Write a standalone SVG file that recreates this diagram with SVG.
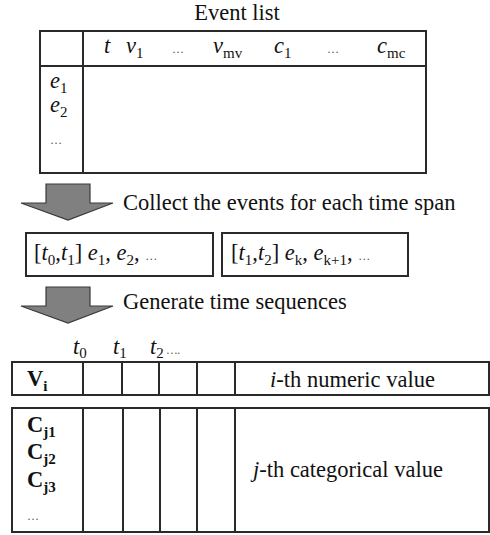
<svg xmlns="http://www.w3.org/2000/svg" width="490" height="535" viewBox="0 0 490 535">
<style>
text{font-family:"Liberation Serif","Times New Roman",serif;fill:#111}
.t{font-size:22.5px}
.it{font-style:italic}
.sub{font-size:15px;font-style:normal}
.dots{font-size:12px;fill:#555}
.box{fill:#fff;stroke:#2a2a2a;stroke-width:2}
.ln{stroke:#2a2a2a;stroke-width:2}
.arrow{fill:#808080;stroke:#3a3a3a;stroke-width:1.2}
.b{font-weight:bold}
</style>
<g id="event-list">
<text class="t" x="237" y="20" text-anchor="middle">Event list</text>
<rect class="box" x="40" y="31" width="386" height="142"/>
<line class="ln" x1="83" y1="31" x2="83" y2="173"/>
<line class="ln" x1="40" y1="66" x2="426" y2="66"/>
<text class="t it" x="104" y="53">t</text>
<text class="t it" x="126" y="53">v<tspan class="sub" dy="5">1</tspan></text>
<text class="dots" x="172" y="53">…</text>
<text class="t it" x="213" y="53">v<tspan class="sub" dy="5">mv</tspan></text>
<text class="t it" x="274" y="53">c<tspan class="sub" dy="5">1</tspan></text>
<text class="dots" x="327" y="53">…</text>
<text class="t it" x="377" y="53">c<tspan class="sub" dy="5">mc</tspan></text>
<text class="t it" x="50" y="88">e<tspan class="sub" dy="5">1</tspan></text>
<text class="t it" x="50" y="112">e<tspan class="sub" dy="5">2</tspan></text>
<text class="dots" x="50" y="144">…</text>
</g>
<g id="arrow1">
<polygon class="arrow" points="46,184 90,184 90,203 113,203 68,220 21,203 46,203"/>
<text class="t" x="123" y="210">Collect the events for each time span</text>
</g>
<g id="span1">
<rect class="box" x="26" y="233" width="187" height="43"/>
<text class="t" x="34" y="260">[<tspan class="it">t</tspan><tspan class="sub" dy="5">0</tspan><tspan dy="-5">,</tspan><tspan class="it">t</tspan><tspan class="sub" dy="5">1</tspan><tspan dy="-5">] </tspan><tspan class="it">e</tspan><tspan class="sub" dy="5">1</tspan><tspan dy="-5">, </tspan><tspan class="it">e</tspan><tspan class="sub" dy="5">2</tspan><tspan dy="-5">, </tspan><tspan class="dots">…</tspan></text>
</g>
<g id="span2">
<rect class="box" x="222" y="233" width="186" height="43"/>
<text class="t" x="231" y="260">[<tspan class="it">t</tspan><tspan class="sub" dy="5">1</tspan><tspan dy="-5">,</tspan><tspan class="it">t</tspan><tspan class="sub" dy="5">2</tspan><tspan dy="-5">] </tspan><tspan class="it">e</tspan><tspan class="sub" dy="5">k</tspan><tspan dy="-5">, </tspan><tspan class="it">e</tspan><tspan class="sub" dy="5">k+1</tspan><tspan dy="-5">, </tspan><tspan class="dots">…</tspan></text>
</g>
<g id="arrow2">
<polygon class="arrow" points="46,287 90,287 90,306 113,306 68,323 21,306 46,306"/>
<text class="t" x="123" y="309">Generate time sequences</text>
</g>
<g id="time-labels">
<text class="t it" x="73" y="354">t<tspan class="sub" dy="4">0</tspan></text>
<text class="t it" x="113" y="354">t<tspan class="sub" dy="4">1</tspan></text>
<text class="t it" x="150" y="354">t<tspan class="sub" dy="4">2</tspan><tspan class="dots" dy="-4"> ….</tspan></text>
</g>
<g id="numeric-row">
<rect class="box" x="12" y="362" width="477" height="33"/>
<line class="ln" x1="83" y1="362" x2="83" y2="395"/>
<line class="ln" x1="122" y1="362" x2="122" y2="395"/>
<line class="ln" x1="159" y1="362" x2="159" y2="395"/>
<line class="ln" x1="197" y1="362" x2="197" y2="395"/>
<line class="ln" x1="235" y1="362" x2="235" y2="395"/>
<text class="t b" x="27" y="386">V<tspan class="sub" dy="5" font-weight="bold">i</tspan></text>
<text class="t" x="270" y="387"><tspan class="it">i</tspan>-th numeric value</text>
</g>
<g id="categorical-rows">
<rect class="box" x="12" y="408" width="477" height="124"/>
<line class="ln" x1="83" y1="408" x2="83" y2="532"/>
<line class="ln" x1="123" y1="408" x2="123" y2="532"/>
<line class="ln" x1="160" y1="408" x2="160" y2="532"/>
<line class="ln" x1="197" y1="408" x2="197" y2="532"/>
<line class="ln" x1="235" y1="408" x2="235" y2="532"/>
<text class="t b" x="27" y="432">C<tspan class="sub" dy="5" font-weight="bold">j1</tspan></text>
<text class="t b" x="27" y="459">C<tspan class="sub" dy="5" font-weight="bold">j2</tspan></text>
<text class="t b" x="27" y="487">C<tspan class="sub" dy="5" font-weight="bold">j3</tspan></text>
<text class="dots" x="27" y="520">…</text>
<text class="t" x="253" y="477"><tspan class="it">j</tspan>-th categorical value</text>
</g>
</svg>
